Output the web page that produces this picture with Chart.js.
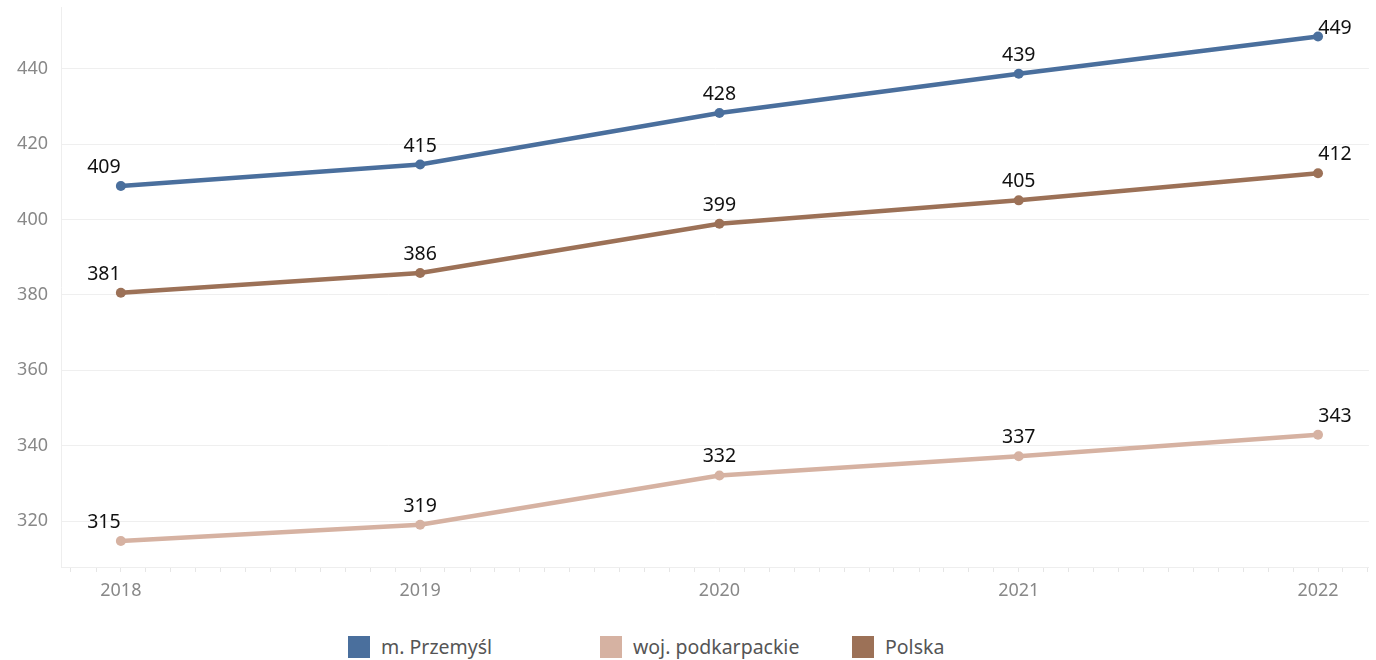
<!DOCTYPE html>
<html>
<head>
<meta charset="utf-8">
<script src="https://cdn.jsdelivr.net/npm/chart.js@4"></script>
<style>
  html, body { margin: 0; padding: 0; background: #fff; overflow: hidden; }
  #wrap { position: relative; width: 1376px; height: 636px; margin-top: -16px; }
  #legend { position: absolute; left: 348px; top: 633px; display: flex; font-family: "Noto Sans", sans-serif; font-size: 19.5px; color: #555; }
  .item { display: flex; align-items: center; width: 252px; }
  .box { width: 22px; height: 22px; margin-right: 11px; }
</style>
</head>
<body>
<div id="wrap"><canvas id="myChart"></canvas></div>
<div id="legend"></div>
<script>
// data
var years = [2018, 2019, 2020, 2021, 2022];
var przemysl = [408.9, 414.6, 428.3, 438.7, 448.6];
var podkarpackie = [314.7, 319.0, 332.1, 337.2, 342.9];
var polska = [380.6, 385.8, 398.9, 405.1, 412.3];
var yTicks = [320, 340, 360, 380, 400, 420, 440];

var names = ['m. Przemyśl', 'woj. podkarpackie', 'Polska'];
var colors = ['#4a6f9d', '#d6b2a2', '#9c7157'];
var series = [przemysl, podkarpackie, polska];

// build legend below the canvas
var leg = document.getElementById('legend');
for (var i = 0; i < names.length; i++) {
  var it = document.createElement('div');
  it.className = 'item';
  it.innerHTML = '<span class="box" style="background:' + colors[i] + '"></span><span>' + names[i] + '</span>';
  leg.appendChild(it);
}

var datasets = [];
for (var i = 0; i < series.length; i++) {
  datasets.push({
    label: names[i],
    data: years.map(function (y, k) { return { x: y, y: series[i][k] }; }),
    borderColor: colors[i],
    backgroundColor: colors[i],
    borderWidth: 4.5,
    pointRadius: 5,
    pointBorderWidth: 0,
    tension: 0
  });
}

// value labels above each point, kept inside the plot at the top
var valueLabels = {
  id: 'valueLabels',
  afterDatasetsDraw: function (chart) {
    var ctx = chart.ctx;
    var minBase = chart.chartArea.top + 26;
    ctx.save();
    ctx.font = '19.5px "Noto Sans", sans-serif';
    ctx.fillStyle = '#111';
    ctx.textAlign = 'center';
    ctx.textBaseline = 'alphabetic';
    chart.data.datasets.forEach(function (ds, di) {
      var meta = chart.getDatasetMeta(di);
      meta.data.forEach(function (pt, k) {
        var dx = 0;
        if (k === 0) dx = -17;
        if (k === meta.data.length - 1) dx = 17;
        ctx.fillText(Math.round(ds.data[k].y), pt.x + dx, Math.max(pt.y - 13, minBase));
      });
    });
    ctx.restore();
  }
};

var ctx = document.getElementById('myChart').getContext('2d');
var chart = new Chart(ctx, {
  type: 'line',
  data: { datasets: datasets },
  options: {
    responsive: true,
    maintainAspectRatio: false,
    animation: false,
    layout: { padding: { top: 8, right: 4, left: 0, bottom: 0 } },
    plugins: { legend: { display: false }, tooltip: { enabled: false } },
    scales: {
      x: {
        type: 'linear',
        min: 2017.8,
        max: 2022.17,
        afterBuildTicks: function (scale) {
          var t = [];
          for (var m = 0; m < 12 * 5 + 3; m++) {
            var v = 2017 + 10 / 12 + m / 12;
            if (v <= 2022.17) t.push({ value: Math.round(v * 1000) / 1000 });
          }
          scale.ticks = t;
        },
        afterFit: function (scale) { scale.height = 53; },
        grid: { drawOnChartArea: false, drawTicks: true, tickLength: 5, tickColor: '#e6e6e6' },
        border: { display: true, color: '#eeeeee' },
        ticks: {
          autoSkip: false,
          maxRotation: 0,
          padding: 8,
          color: '#888',
          font: { family: 'Noto Sans', size: 18 },
          callback: function (v) {
            return Math.abs(v - Math.round(v)) < 0.001 ? String(Math.round(v)) : '';
          }
        }
      },
      y: {
        min: 307.8,
        max: 456.2,
        afterBuildTicks: function (scale) {
          scale.ticks = yTicks.map(function (v) { return { value: v }; });
        },
        afterFit: function (scale) { scale.width = 61; },
        grid: { color: '#efefef', drawTicks: false, lineWidth: 1 },
        border: { display: true, color: '#eeeeee' },
        ticks: {
          padding: 13,
          color: '#888',
          font: { family: 'Noto Sans', size: 18 }
        }
      }
    }
  },
  plugins: [valueLabels]
});
</script>
</body>
</html>
